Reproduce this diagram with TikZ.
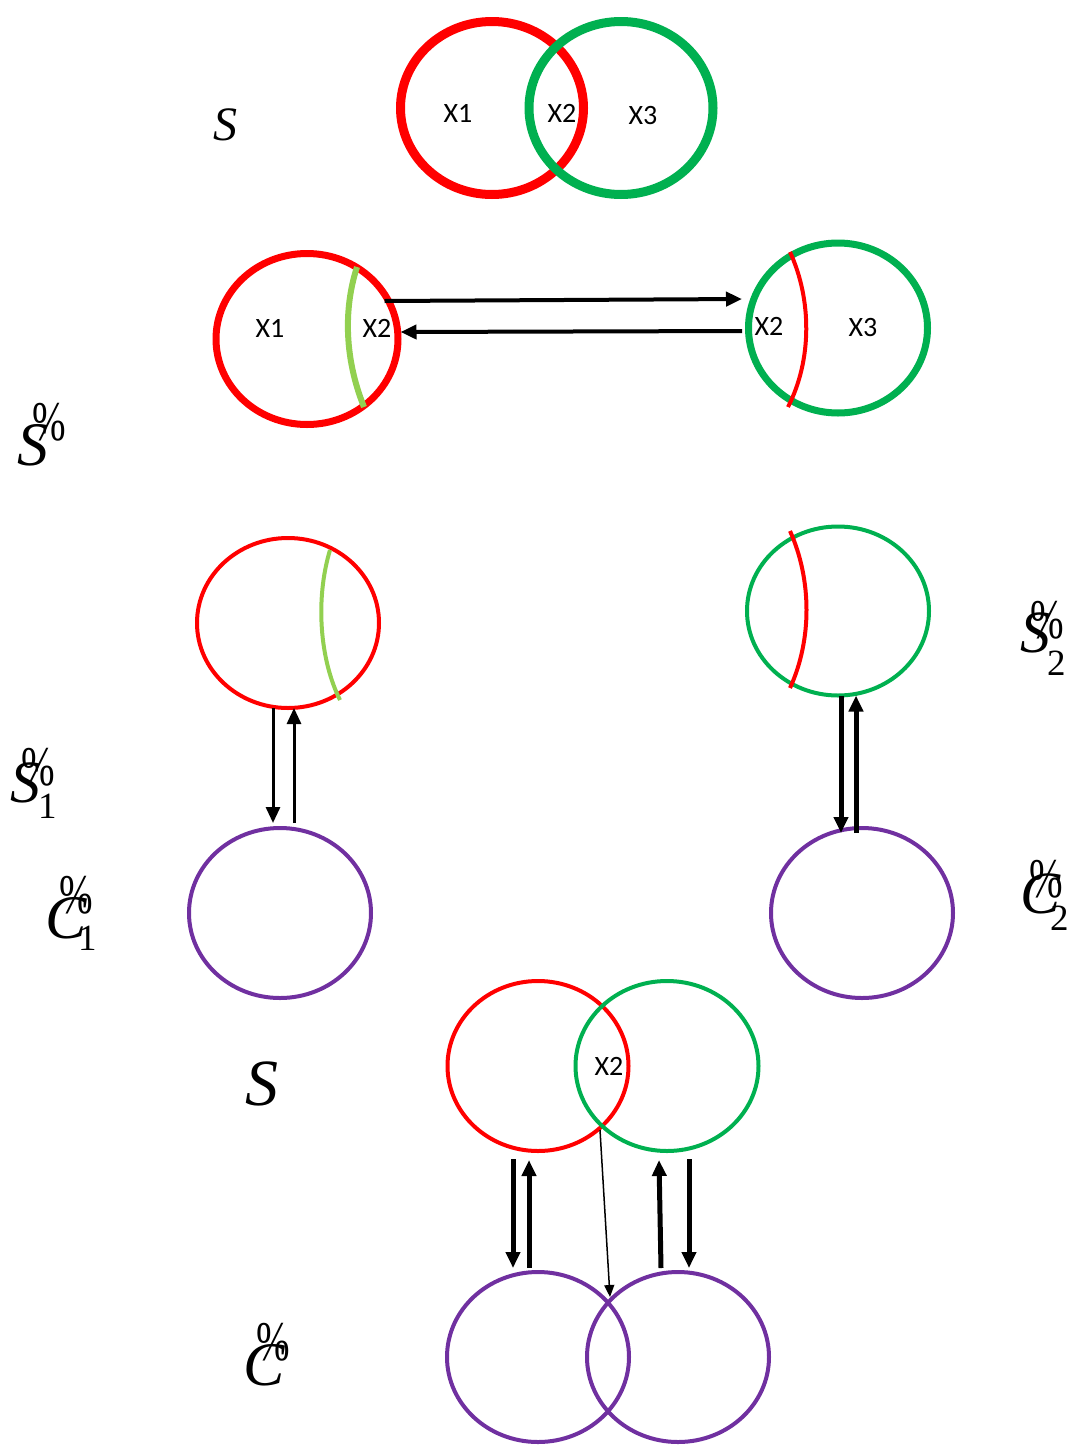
\documentclass[tikz,border=0pt]{standalone}
\usepackage{fontspec}
\usepackage{graphicx}
\setmainfont{Liberation Serif}
\newfontfamily\sansx{Carlito}
\usetikzlibrary{shapes.geometric, arrows.meta, calc}
\definecolor{setred}{HTML}{FF0000}
\definecolor{setgreen}{HTML}{00B050}
\definecolor{limegreen}{HTML}{92D050}
\definecolor{setpurple}{HTML}{7030A0}
% letter with a stray percent sign over it, as the picture prints it
% #1 letter, #2 size, #3/#4 shift of the percent, #5/#6 shift of the index, #7 index
\newcommand{\pctlbl}[7]{\rlap{\fontsize{#2}{#2}\selectfont\itshape #1}%
  \kern#3pt\rlap{\raisebox{#4pt}{\scalebox{0.72}[1]{\fontsize{56}{56}\selectfont\upshape\%}}}%
  \kern-#3pt\kern#5pt\raisebox{-#6pt}{\fontsize{37}{37}\selectfont #7}}
\tikzset{
  setnode/.style={ellipse, draw, inner sep=0pt, minimum width=182pt, minimum height=171pt},
  xlbl/.style={font=\sansx\fontsize{28}{28}\selectfont, inner sep=0pt},
  biglbl/.style={inner sep=0pt, anchor=base west},
}
\begin{document}
\begin{tikzpicture}[x=1pt,y=-1pt,>={Triangle[length=16pt,width=14pt]}]
\useasboundingbox (0,0) rectangle (1073,1446);
%% top: S
\node (s_red) at (492,108) [setnode, draw=setred, line width=9pt, minimum width=183pt, minimum height=173pt] {};
\node (s_green) at (621,108) [setnode, draw=setgreen, line width=9pt, minimum width=184pt, minimum height=173pt] {};
\node (s_x1) at (458,113) [xlbl] {X1};
\node (s_x2) at (562,113) [xlbl] {X2};
\node (s_x3) at (643,116) [xlbl] {X3};
\node (lbl_s) at (213,140) [biglbl] {\fontsize{48}{48}\selectfont\itshape S};
%% second row
\node (t_red) at (307,339) [setnode, draw=setred, line width=7pt] {};
\node (t_green) at (838,328) [setnode, draw=setgreen, line width=7pt, minimum width=179pt, minimum height=170pt] {};
\draw [limegreen, line width=6pt] (357,267) ..controls (343,310) and (345,360) .. (364,407);
\draw [setred, line width=4pt] (790,252) ..controls (812,300) and (812,360) .. (788,407);
\node (t_x1) at (270,328) [xlbl] {X1};
\node (t_x2) at (377,328) [xlbl] {X2};
\node (t_x2b) at (769,326) [xlbl] {X2};
\node (t_x3) at (863,328) [xlbl] {X3};
\draw [line width=4pt, ->] ($(t_red.east)+(-17,-38)$) -- ($(t_green.west)+(-3,-29)$);
\draw [line width=4pt, ->] ($(t_green.west)+(-3,3)$) -- ($(t_red.east)+(-1,-7)$);
\node (lbl_st) at (17,465) [biglbl] {\pctlbl{S}{62}{15}{25}{0}{0}{}};
%% third row
\node (u_red) at (288,623) [setnode, draw=setred, line width=4pt, minimum height=170pt] {};
\node (u_green) at (838,611) [setnode, draw=setgreen, line width=4pt, minimum height=169pt] {};
\draw [limegreen, line width=4pt] (330,550) ..controls (315,600) and (320,660) .. (340,700);
\draw [setred, line width=4pt] (790,531) ..controls (812,580) and (812,640) .. (790,688);
\node (lbl_s1) at (10,802) [biglbl] {\pctlbl{S}{60}{11}{17}{28}{16}{1}};
\node (lbl_s2) at (1020,652) [biglbl] {\pctlbl{S}{60}{10}{14}{27}{23}{2}};
%% fourth row
\node (v_left) at (280,913) [setnode, draw=setpurple, line width=4pt, minimum height=170pt] {};
\node (v_right) at (862,913) [setnode, draw=setpurple, line width=4pt, minimum height=170pt] {};
\draw [line width=3pt, ->] ($(u_red.south)+(-15,-2)$) -- ($(v_left.north)+(-7,-3)$);
\draw [line width=3pt, ->] ($(v_left.north)+(14,-3)$) -- ($(u_red.south)+(6,-2)$);
\draw [line width=5pt, ->] ($(u_green.south)+(3,-2)$) -- ($(v_right.north)+(-21,7)$);
\draw [line width=5pt, ->] ($(v_right.north)+(-6,7)$) -- ($(u_green.south)+(18,-2)$);
\node (lbl_c1) at (45,938) [biglbl] {\pctlbl{C}{62}{14}{25}{33}{12}{1}};
\node (lbl_c2) at (1020,913) [biglbl] {\pctlbl{C}{60}{9}{16}{30}{17}{2}};
%% bottom: S and C
\node (w_red) at (538,1066) [setnode, draw=setred, line width=4pt, minimum width=181pt, minimum height=170pt] {};
\node (w_green) at (667,1066) [setnode, draw=setgreen, line width=4pt, minimum width=183pt, minimum height=170pt] {};
\node (w_x2) at (609,1066) [xlbl] {X2};
\node (lbl_sb) at (245,1105) [biglbl] {\fontsize{66}{66}\selectfont\itshape S};
\node (x_left) at (538,1357) [setnode, draw=setpurple, line width=4pt, minimum height=170pt] {};
\node (x_right) at (678,1357) [setnode, draw=setpurple, line width=4pt, minimum height=170pt] {};
\draw [line width=5pt, ->] ($(w_red.south)+(-25,6)$) -- ($(x_left.north)+(-25,-2)$);
\draw [line width=5pt, ->] ($(x_left.north)+(-9,-2)$) -- ($(w_red.south)+(-9,7)$);
\draw [line width=5pt, ->] ($(x_right.north)+(-17,-2)$) -- ($(w_green.south)+(-8,7)$);
\draw [line width=5pt, ->] ($(w_green.south)+(22,6)$) -- ($(x_right.north)+(11,-2)$);
\coordinate (w_cut) at (600,1130);
\coordinate (x_cut) at (610,1297);
\draw [line width=1.5pt, -{Triangle[length=12pt,width=10pt]}] (w_cut) -- (x_cut);
\node (lbl_cb) at (243,1385) [biglbl] {\pctlbl{C}{62}{13}{25}{0}{0}{}};
%
\end{tikzpicture}
\end{document}
